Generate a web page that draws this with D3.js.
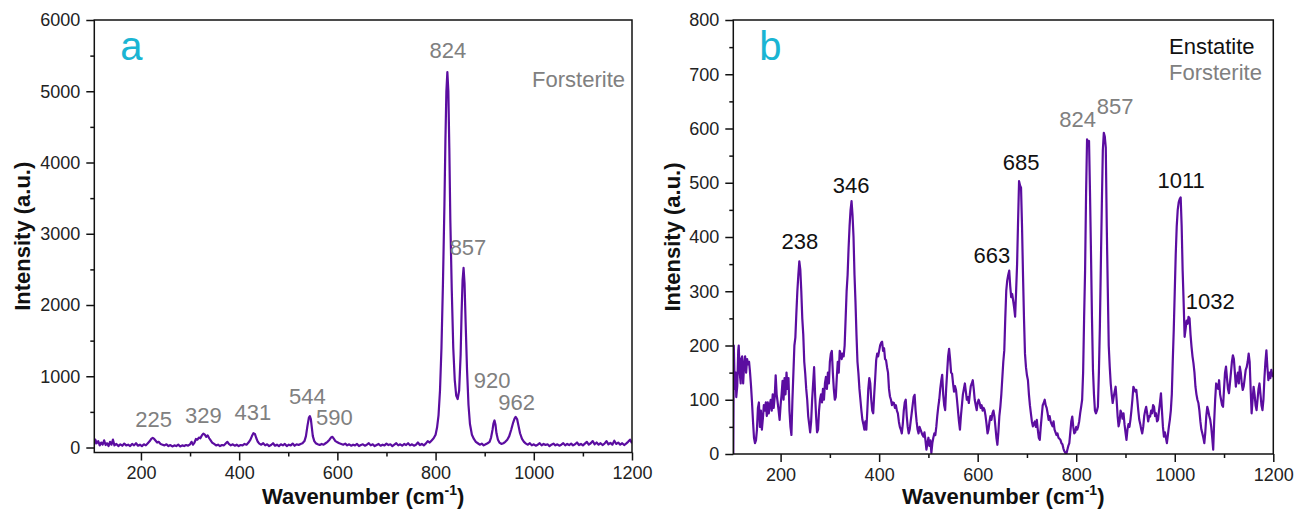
<!DOCTYPE html>
<html>
<head>
<meta charset="utf-8">
<script src="https://cdn.jsdelivr.net/npm/d3@7"></script>
<style>
  body { margin: 0; background: #fff; }
  svg { font-family: "Liberation Sans", Arial, sans-serif; }
</style>
</head>
<body>
<div id="chart"></div>
<script>
// panel a : forsterite spectrum [wavenumber, intensity]
const spectrumA = [
  [105,40],[107,110],[110,60],[113,90],[116,30],[119,70],[122,40],[125,100],[128,35],[131,60],[134,20],[137,80],[140,40],[143,110],[146,30],[150,50],[154,20],[158,45],[162,25],[166,55],[170,30],[174,40],[178,20],[182,50],[186,30],[190,60],[194,25],[198,40],[202,20],[206,45],[210,30],[214,60],[218,90],[221,120],[224,135],[227,120],[230,95],[233,70],[236,80],[240,50],[244,40],[248,30],[252,45],[256,20],[260,35],[264,15],[268,30],[272,20],[276,40],[280,15],[284,30],[288,20],[292,35],[296,25],[300,45],[303,80],[306,40],[309,70],[312,120],[315,110],[318,140],[321,130],[324,170],[327,195],[330,180],[333,150],[336,170],[339,130],[342,100],[345,70],[349,50],[353,30],[357,40],[361,20],[365,35],[369,30],[373,60],[376,80],[379,50],[383,30],[387,45],[391,25],[395,40],[399,20],[403,35],[407,30],[411,50],[415,40],[419,70],[423,110],[426,160],[429,200],[432,190],[435,130],[438,80],[441,55],[445,40],[449,60],[453,30],[457,45],[461,20],[465,35],[469,60],[473,25],[477,40],[481,20],[485,45],[489,30],[493,50],[497,20],[501,40],[505,30],[509,55],[513,25],[517,45],[521,35],[525,50],[529,60],[533,90],[536,160],[539,300],[542,420],[544,440],[546,400],[548,280],[550,160],[553,90],[556,60],[560,45],[564,35],[568,50],[572,40],[576,60],[580,80],[584,110],[587,140],[590,150],[593,120],[596,90],[600,75],[604,60],[608,50],[612,40],[616,55],[620,30],[624,45],[628,25],[632,40],[636,30],[640,50],[644,20],[648,35],[652,45],[656,25],[660,40],[664,60],[668,30],[672,45],[676,20],[680,35],[684,50],[688,25],[692,40],[696,30],[700,55],[704,35],[708,45],[712,20],[716,40],[720,60],[724,30],[728,45],[732,25],[736,50],[740,35],[744,60],[748,30],[752,45],[756,25],[760,40],[764,70],[768,35],[772,50],[776,30],[780,55],[784,90],[788,70],[792,100],[796,130],[800,180],[803,280],[806,450],[809,800],[812,1400],[815,2300],[818,3400],[820,4300],[822,5000],[824,5270],[826,5000],[828,4200],[830,3200],[833,2200],[836,1400],[839,950],[842,730],[845,680],[848,800],[851,1300],[853,1900],[855,2350],[857,2520],[859,2300],[861,1800],[864,1100],[867,600],[870,330],[874,180],[878,120],[882,80],[886,60],[890,40],[894,55],[898,30],[902,45],[906,60],[910,80],[913,140],[916,250],[918,340],[920,380],[922,320],[924,200],[927,110],[930,70],[934,50],[938,60],[942,80],[946,110],[950,160],[954,250],[958,350],[961,410],[963,430],[966,400],[969,300],[972,200],[976,120],[980,80],[984,55],[988,40],[992,60],[996,30],[1000,45],[1004,25],[1008,40],[1012,60],[1016,30],[1020,50],[1024,35],[1028,45],[1032,20],[1036,40],[1040,55],[1044,30],[1048,45],[1052,25],[1056,40],[1060,60],[1064,30],[1068,50],[1072,35],[1076,55],[1080,30],[1084,45],[1088,70],[1092,35],[1096,50],[1100,30],[1104,55],[1108,80],[1112,40],[1116,60],[1120,90],[1124,45],[1128,70],[1132,40],[1136,60],[1140,35],[1144,55],[1148,90],[1152,45],[1156,65],[1160,40],[1164,95],[1168,50],[1172,70],[1176,40],[1180,60],[1184,35],[1188,55],[1192,80],[1196,110],[1200,60]
];

// panel b : enstatite + forsterite spectrum [wavenumber, intensity]
const spectrumB = [
  [104,0],[105,200],[107,120],[109,150],[110,105],[112,125],[114,190],[115,200],[117,150],[119,130],[120,175],[122,180],[124,130],[126,165],[128,180],[130,150],[132,175],[134,165],[136,170],[138,150],[140,125],[142,95],[144,60],[146,30],[148,20],[150,25],[152,45],[154,85],[156,95],[158,50],[160,80],[162,45],[164,65],[166,90],[168,80],[170,95],[172,70],[174,95],[176,75],[178,90],[180,100],[182,80],[184,110],[186,85],[188,105],[190,145],[192,110],[194,95],[196,80],[198,63],[200,90],[202,110],[204,135],[206,100],[208,140],[210,110],[212,150],[214,120],[216,140],[218,80],[220,50],[222,35],[224,100],[226,150],[228,200],[230,215],[232,260],[234,300],[236,330],[238,355],[240,340],[242,300],[244,250],[246,220],[248,170],[250,148],[252,120],[254,100],[256,70],[258,55],[260,40],[262,60],[264,100],[266,130],[268,160],[270,110],[272,70],[274,40],[276,45],[278,80],[280,100],[282,110],[284,95],[286,120],[288,100],[290,130],[292,142],[294,120],[296,150],[298,130],[300,170],[302,185],[304,190],[306,150],[308,120],[310,100],[312,105],[314,140],[316,170],[318,150],[320,190],[322,185],[324,175],[326,185],[328,180],[330,200],[332,250],[334,300],[336,330],[338,380],[340,420],[342,450],[344,466],[346,440],[348,400],[350,330],[352,280],[354,220],[356,170],[358,148],[360,120],[362,100],[364,80],[366,63],[368,55],[370,45],[372,60],[374,45],[376,80],[378,120],[380,140],[382,130],[384,100],[386,80],[388,75],[390,110],[392,140],[394,173],[396,185],[398,180],[400,190],[402,200],[404,205],[406,207],[408,190],[410,195],[412,175],[414,173],[416,160],[418,150],[420,120],[422,106],[424,100],[426,90],[428,95],[430,94],[432,85],[434,90],[436,80],[438,75],[440,60],[442,50],[444,45],[446,38],[448,55],[450,80],[452,95],[454,100],[456,70],[458,50],[460,38],[462,45],[464,60],[466,75],[468,90],[470,105],[472,109],[474,80],[476,60],[478,45],[480,38],[482,50],[484,45],[486,40],[488,35],[490,32],[492,40],[494,25],[496,8],[498,20],[500,30],[502,15],[504,25],[506,2],[508,20],[510,30],[512,38],[514,35],[516,50],[518,70],[520,87],[522,100],[524,120],[526,135],[528,146],[530,110],[532,90],[534,81],[536,120],[538,150],[540,180],[542,194],[544,175],[546,150],[548,148],[550,130],[552,115],[554,125],[556,118],[558,100],[560,80],[562,60],[564,45],[566,70],[568,90],[570,110],[572,120],[574,130],[576,115],[578,100],[580,105],[582,94],[584,110],[586,125],[588,130],[590,136],[592,120],[594,100],[596,90],[598,81],[600,95],[602,100],[604,94],[606,85],[608,90],[610,80],[612,85],[614,81],[616,70],[618,55],[620,38],[622,45],[624,60],[626,70],[628,63],[630,75],[632,80],[634,69],[636,50],[638,30],[640,17],[642,40],[644,70],[646,87],[648,110],[650,140],[652,170],[654,191],[656,250],[658,301],[660,320],[662,330],[664,338],[666,310],[668,289],[670,295],[672,283],[674,270],[676,253],[678,300],[680,350],[682,430],[684,503],[686,495],[688,491],[690,420],[692,330],[694,250],[696,185],[698,160],[700,145],[702,136],[704,110],[706,90],[708,75],[710,60],[712,51],[714,55],[716,60],[718,50],[720,63],[722,45],[724,30],[726,26],[728,50],[730,70],[732,90],[734,94],[736,100],[738,90],[740,85],[742,75],[744,63],[746,70],[748,60],[750,55],[752,51],[754,60],[756,45],[758,40],[760,35],[762,38],[764,30],[766,28],[768,26],[770,20],[772,18],[774,10],[776,5],[778,2],[780,0],[782,8],[784,15],[786,20],[788,40],[790,60],[792,69],[794,50],[796,38],[798,40],[800,50],[802,45],[804,51],[806,60],[808,75],[810,87],[812,100],[814,150],[816,250],[818,338],[820,480],[822,580],[824,575],[826,577],[828,480],[830,369],[832,250],[834,155],[836,110],[838,80],[840,75],[842,80],[844,87],[846,150],[848,234],[850,350],[852,460],[854,560],[856,592],[858,585],[860,565],[862,420],[864,307],[866,200],[868,161],[870,130],[872,110],[874,94],[876,105],[878,115],[880,124],[882,100],[884,70],[886,51],[888,60],[890,80],[892,75],[894,65],[896,75],[898,55],[900,40],[902,26],[904,45],[906,55],[908,50],[910,63],[912,80],[914,100],[916,124],[918,120],[920,115],[922,118],[924,100],[926,80],[928,63],[930,55],[932,45],[934,38],[936,50],[938,70],[940,80],[942,87],[944,75],[946,60],[948,70],[950,69],[952,80],[954,75],[956,90],[958,87],[960,70],[962,75],[964,60],[966,63],[968,80],[970,95],[972,112],[974,80],[976,50],[978,32],[980,40],[982,30],[984,20],[986,35],[988,50],[990,63],[992,80],[994,110],[996,173],[998,230],[1000,300],[1002,369],[1004,420],[1006,450],[1008,464],[1010,470],[1012,473],[1014,420],[1016,338],[1018,280],[1020,216],[1022,230],[1024,246],[1026,240],[1028,253],[1030,250],[1032,220],[1034,198],[1036,180],[1038,167],[1040,150],[1042,124],[1044,110],[1046,100],[1048,94],[1050,80],[1052,60],[1054,45],[1056,38],[1058,30],[1060,20],[1062,40],[1064,70],[1066,87],[1068,80],[1070,70],[1072,63],[1074,50],[1076,30],[1078,8],[1080,60],[1082,100],[1084,130],[1086,125],[1088,120],[1090,136],[1092,110],[1094,100],[1096,90],[1098,87],[1100,120],[1102,150],[1104,161],[1106,140],[1108,120],[1110,112],[1112,130],[1114,150],[1116,170],[1118,182],[1120,175],[1122,150],[1124,124],[1126,140],[1128,150],[1130,130],[1132,161],[1134,150],[1136,130],[1138,118],[1140,125],[1142,140],[1144,155],[1146,160],[1148,170],[1150,185],[1152,170],[1154,120],[1156,75],[1158,100],[1160,124],[1162,110],[1164,90],[1166,81],[1168,100],[1170,120],[1172,130],[1174,110],[1176,90],[1178,81],[1180,100],[1182,140],[1184,170],[1186,191],[1188,160],[1190,136],[1192,150],[1194,140],[1196,155],[1198,145],[1200,142]
];

// ticks
const wnTicks = [200, 400, 600, 800, 1000, 1200];
const wnMinor = [300, 500, 700, 900, 1100];
const intTicksA = [0, 1000, 2000, 3000, 4000, 5000, 6000];
const intMinorA = [500, 1500, 2500, 3500, 4500, 5500];
const intTicksB = [0, 100, 200, 300, 400, 500, 600, 700, 800];
const intMinorB = [50, 150, 250, 350, 450, 550, 650, 750];

// peak labels [text, wavenumber, intensity] in data units
const peaksA = [
  ["225", 226, 292], ["329", 327, 340], ["431", 428, 386], ["544", 539, 610],
  ["590", 594, 316], ["824", 825, 5467], ["857", 866, 2702], ["920", 915, 835],
  ["962", 965, 526]
];
const peaksEnstatiteB = [
  ["238", 239, 378], ["346", 343, 481], ["663", 629, 352], ["685", 688, 523],
  ["1011", 1013, 490], ["1032", 1072, 267]
];
const peaksForsteriteB = [["824", 803, 603], ["857", 879, 627]];

const lineColor = "#5b0da0";
const grey = "#808080";
const cyan = "#1ab5d3";

const svg = d3.select("#chart")
  .append("svg")
    .attr("width", 1309)
    .attr("height", 516);

function panel(o) {
  const x = d3.scaleLinear().domain(o.xDomain).range([o.left, o.right]);
  const y = d3.scaleLinear().domain(o.yDomain).range([o.bottom, o.top]);
  const g = svg.append("g");

  // minor ticks
  g.append("g")
    .attr("transform", `translate(0,${o.bottom})`)
    .call(d3.axisBottom(x).tickValues(wnMinor).tickSize(4).tickFormat(""))
    .call(a => a.select(".domain").remove());
  g.append("g")
    .attr("transform", `translate(${o.left},0)`)
    .call(d3.axisLeft(y).tickValues(o.yMinor).tickSize(4).tickFormat(""))
    .call(a => a.select(".domain").remove());

  // major ticks
  g.append("g")
    .attr("transform", `translate(0,${o.bottom})`)
    .call(d3.axisBottom(x).tickValues(wnTicks).tickSize(8).tickPadding(6).tickFormat(d3.format("d")))
    .call(a => a.select(".domain").remove())
    .call(a => a.selectAll("text").attr("font-size", 18).attr("fill", "#222"));
  g.append("g")
    .attr("transform", `translate(${o.left},0)`)
    .call(d3.axisLeft(y).tickValues(o.yTicks).tickSize(8).tickPadding(6).tickFormat(d3.format("d")))
    .call(a => a.select(".domain").remove())
    .call(a => a.selectAll("text").attr("font-size", 18).attr("fill", "#222"));
  g.selectAll(".tick line").attr("stroke", "#111").attr("stroke-width", 1.5);

  // spectrum
  const clipId = "clip" + o.name;
  g.append("clipPath").attr("id", clipId)
    .append("rect")
      .attr("x", o.left).attr("y", o.top)
      .attr("width", o.right - o.left).attr("height", o.bottom - o.top);
  g.append("path")
    .datum(o.data)
    .attr("clip-path", `url(#${clipId})`)
    .attr("fill", "none")
    .attr("stroke", lineColor)
    .attr("stroke-width", 2.2)
    .attr("stroke-linejoin", "round")
    .attr("d", d3.line().x(d => x(d[0])).y(d => y(d[1])));

  // frame
  g.append("rect")
    .attr("x", o.left).attr("y", o.top)
    .attr("width", o.right - o.left).attr("height", o.bottom - o.top)
    .attr("fill", "none").attr("stroke", "#111").attr("stroke-width", 1.5);

  // peak labels
  o.labels.forEach(set => {
    g.selectAll(null)
      .data(set.data)
      .join("text")
        .attr("x", d => x(d[1]))
        .attr("y", d => y(d[2]))
        .attr("text-anchor", "middle")
        .attr("font-size", 22)
        .attr("fill", set.color)
        .text(d => d[0]);
  });

  // axis titles
  const xt = g.append("text")
    .attr("x", (o.left + o.right) / 2)
    .attr("y", 504)
    .attr("text-anchor", "middle")
    .attr("font-size", 22)
    .attr("font-weight", "bold")
    .attr("fill", "#111");
  xt.append("tspan").text("Wavenumber (cm");
  xt.append("tspan").attr("dy", -9).attr("font-size", 14).text("-1");
  xt.append("tspan").attr("dy", 9).text(")");

  g.append("text")
    .attr("transform", `translate(${o.titleX},${(o.top + o.bottom) / 2}) rotate(-90)`)
    .attr("text-anchor", "middle")
    .attr("dy", "0.35em")
    .attr("font-size", 22)
    .attr("font-weight", "bold")
    .attr("fill", "#111")
    .text("Intensity (a.u.)");

  // panel letter
  g.append("text")
    .attr("x", o.left + 26)
    .attr("y", 60)
    .attr("font-size", 40)
    .attr("fill", cyan)
    .text(o.name);

  return g;
}

const gA = panel({
  name: "a", data: spectrumA,
  xDomain: [105, 1200], yDomain: [-70, 6000],
  left: 94.3, right: 632, top: 20, bottom: 452.5,
  yTicks: intTicksA, yMinor: intMinorA, titleX: 22,
  labels: [{data: peaksA, color: grey}]
});
gA.append("text")
  .attr("x", 625).attr("y", 87)
  .attr("text-anchor", "end")
  .attr("font-size", 22).attr("fill", grey)
  .text("Forsterite");

const gB = panel({
  name: "b", data: spectrumB,
  xDomain: [104, 1200], yDomain: [0, 800],
  left: 733.3, right: 1273.3, top: 20, bottom: 454,
  yTicks: intTicksB, yMinor: intMinorB, titleX: 672,
  labels: [{data: peaksEnstatiteB, color: "#111"}, {data: peaksForsteriteB, color: grey}]
});
gB.append("text")
  .attr("x", 1169).attr("y", 54)
  .attr("font-size", 22).attr("fill", "#111")
  .text("Enstatite");
gB.append("text")
  .attr("x", 1169).attr("y", 80)
  .attr("font-size", 22).attr("fill", grey)
  .text("Forsterite");
</script>
</body>
</html>
